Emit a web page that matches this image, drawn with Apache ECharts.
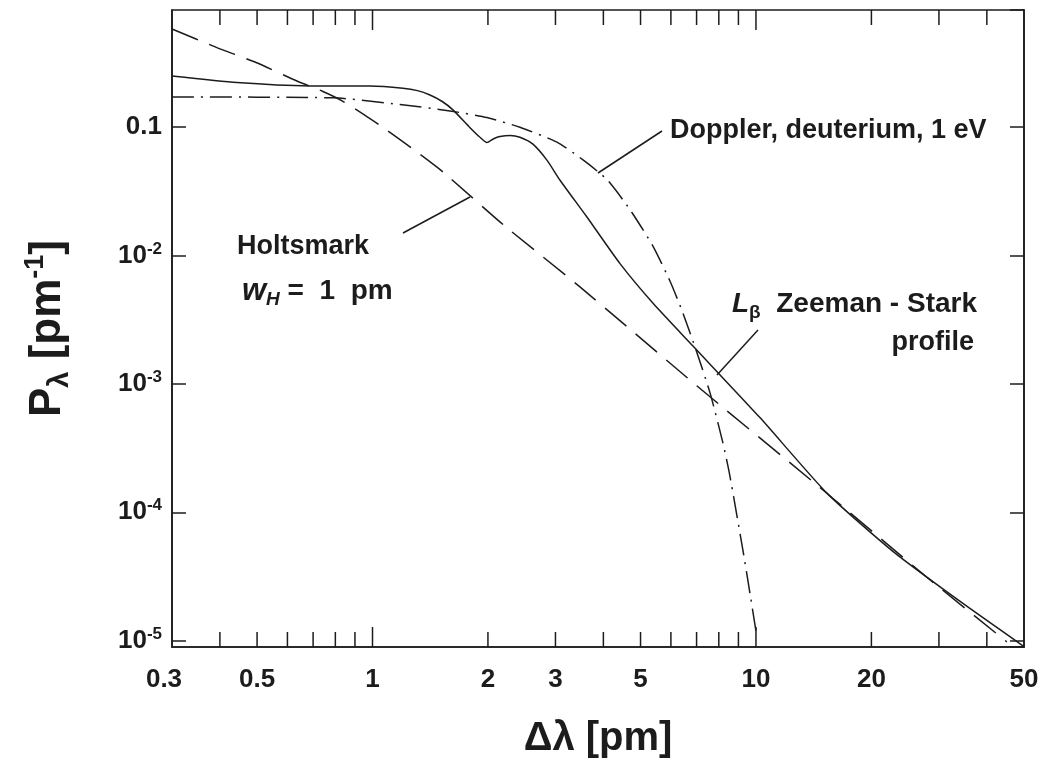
<!DOCTYPE html>
<html>
<head>
<meta charset="utf-8">
<script src="https://cdn.jsdelivr.net/npm/echarts@6/dist/echarts.min.js"></script>
<style>html,body{margin:0;padding:0;background:#fff}#chart{width:1045px;height:762px}</style>
</head>
<body>
<div id="chart"></div>
<script>
// ---- axis ranges and ticks ----
const X_MIN = 0.3, X_MAX = 50;
const Y_MIN = 8.93e-6, Y_MAX = 0.815;
const xLabelValues = [0.3, 0.5, 1, 2, 3, 5, 10, 20, 50];
const xMinorTicks = [0.4, 0.5, 0.6, 0.7, 0.8, 0.9, 2, 3, 4, 5, 6, 7, 8, 9, 20, 30, 40];
const xMajorTicks = [1, 10];

// ---- Holtsmark profile (w_H = 1 pm), long dashes ----
const holtsmarkX = [0.3, 0.393, 0.497, 0.635, 0.74, 0.833, 0.95, 1.065, 1.306, 1.526, 2.19, 3.475, 7.02, 14.42, 27.9, 45.1];
const holtsmarkY = [0.58, 0.415, 0.318, 0.228, 0.19, 0.160, 0.125, 0.0993, 0.0638, 0.0447, 0.0174, 0.00569, 0.000962, 0.000163, 0.0000312, 0.0000098];

// ---- L-beta Zeeman-Stark profile, solid ----
const starkX = [0.3, 0.443, 0.687, 0.985, 1.20, 1.31, 1.412, 1.52, 1.621, 1.796, 1.90, 1.988, 2.07, 2.15, 2.284, 2.424, 2.62, 2.85, 3.08, 3.62, 4.42, 5.39, 6.85, 10.24, 15.31, 22.8, 34.0, 50];
const starkY = [0.2495, 0.222, 0.209, 0.2086, 0.2005, 0.192, 0.1775, 0.158, 0.1359, 0.0988, 0.084, 0.0756, 0.081, 0.0843, 0.0860, 0.0832, 0.0735, 0.0552, 0.0387, 0.0200, 0.00863, 0.00424, 0.00197, 0.000546, 0.000141, 0.0000494, 0.0000203, 0.0000090];

// ---- Doppler profile (deuterium, 1 eV), dash-dot ----
const dopplerX = [0.3, 0.789, 1.179, 1.592, 1.988, 2.424, 3.027, 3.54, 4.09, 4.69, 5.39, 5.97, 6.45, 7.02, 7.59, 8.20, 8.55, 9.25, 9.65, 10.06];
const dopplerY = [0.1713, 0.1688, 0.1497, 0.1335, 0.1184, 0.0995, 0.0763, 0.0554, 0.0389, 0.0228, 0.01178, 0.00629, 0.00356, 0.00174, 0.00085, 0.000347, 0.000192, 0.0000502, 0.0000232, 0.0000106];

const INK = '#1c1c1c';
const FONT = '"Liberation Sans", Arial, Helvetica, sans-serif';

function zip(xs, ys) { return xs.map((x, i) => [x, ys[i]]); }

function tickSeries(values, len) {
  return {
    type: 'custom', clip: false, silent: true, z: 4,
    data: values.map(v => [v, Y_MIN]),
    renderItem: function (params, api) {
      const v = api.value(0);
      const b = api.coord([v, Y_MIN]);
      const t = api.coord([v, Y_MAX]);
      return {
        type: 'group',
        children: [
          { type: 'line', shape: { x1: b[0], y1: b[1], x2: b[0], y2: b[1] - len }, style: { stroke: INK, lineWidth: 1.5 } },
          { type: 'line', shape: { x1: t[0], y1: t[1], x2: t[0], y2: t[1] + len }, style: { stroke: INK, lineWidth: 1.5 } }
        ]
      };
    }
  };
}

const chart = echarts.init(document.getElementById('chart'), null, { renderer: 'canvas' });

const option = {
  animation: false,
  backgroundColor: '#ffffff',
  grid: {
    left: 172, top: 10, width: 852, height: 637, containLabel: false, outerBoundsMode: 'none',
    show: true, borderColor: INK, borderWidth: 1.6, backgroundColor: 'transparent'
  },
  xAxis: {
    type: 'log', logBase: 10, min: X_MIN, max: X_MAX,
    axisLine: { show: true, lineStyle: { color: INK, width: 1.6 } },
    axisTick: { show: false }, axisLabel: { show: false },
    splitLine: { show: false }, minorTick: { show: false },
    name: 'Δλ [pm]', nameLocation: 'middle', nameGap: 68,
    nameTextStyle: { fontFamily: FONT, fontSize: 40, fontWeight: 'bold', color: INK, lineHeight: 48 }
  },
  yAxis: [{
    type: 'log', logBase: 10, min: Y_MIN, max: Y_MAX, position: 'left',
    axisLine: { show: true, lineStyle: { color: INK, width: 1.6 } },
    axisTick: { show: true, inside: true, length: 14, lineStyle: { color: INK, width: 1.5 } },
    splitLine: { show: false }, minorTick: { show: false },
    axisLabel: {
      margin: 10, showMinLabel: false, showMaxLabel: false,
      formatter: function (v) {
        const e = Math.round(Math.log10(v));
        if (e === -1) return '{b|0.1}';
        return '{b|10}{s|' + e + '}';
      },
      rich: {
        b: { fontFamily: FONT, fontSize: 26, fontWeight: 'bold', color: INK, lineHeight: 30, verticalAlign: 'middle' },
        s: { fontFamily: FONT, fontSize: 17, fontWeight: 'bold', color: INK, lineHeight: 14, verticalAlign: 'top' }
      }
    },
    name: '{p|P}{sub|λ}{p| [pm}{sup|-1}{p|]}', nameLocation: 'middle', nameGap: 98, nameRotate: 90,
    nameTextStyle: {
      rich: {
        p: { fontFamily: FONT, fontSize: 44, fontWeight: 'bold', color: INK, lineHeight: 52, verticalAlign: 'middle' },
        sub: { fontFamily: FONT, fontSize: 29, fontWeight: 'bold', color: INK, lineHeight: 26, verticalAlign: 'bottom' },
        sup: { fontFamily: FONT, fontSize: 27, fontWeight: 'bold', color: INK, lineHeight: 22, verticalAlign: 'top' }
      }
    }
  }, {
    type: 'log', logBase: 10, min: Y_MIN, max: Y_MAX, position: 'right',
    axisLine: { show: true, lineStyle: { color: INK, width: 1.6 } },
    axisTick: { show: true, inside: true, length: 14, lineStyle: { color: INK, width: 1.5 } },
    axisLabel: { show: false }, splitLine: { show: false }
  }],
  series: [
    {
      name: 'Holtsmark', type: 'line', data: zip(holtsmarkX, holtsmarkY),
      showSymbol: false, smooth: 0.2,
      lineStyle: { color: INK, width: 1.5, type: [28, 12] }
    },
    {
      name: 'Lβ Zeeman - Stark profile', type: 'line', data: zip(starkX, starkY),
      showSymbol: false, smooth: 0.2,
      lineStyle: { color: INK, width: 1.5, type: 'solid' }
    },
    {
      name: 'Doppler, deuterium, 1 eV', type: 'line', data: zip(dopplerX, dopplerY),
      showSymbol: false, smooth: 0.2,
      lineStyle: { color: INK, width: 1.5, type: [22, 7, 2, 7] }
    },
    tickSeries(xMinorTicks, 15),
    tickSeries(xMajorTicks, 20),
    {
      type: 'custom', clip: false, silent: true, z: 4,
      data: xLabelValues.map(v => [v, Y_MIN]),
      renderItem: function (params, api) {
        const v = api.value(0);
        const p = api.coord([v, Y_MIN]);
        const dx = v === X_MIN ? -8 : 0;
        return {
          type: 'text', x: p[0] + dx, y: p[1] + 33,
          style: { text: String(v), fill: INK, fontFamily: FONT, fontSize: 26, fontWeight: 'bold', align: 'center', verticalAlign: 'middle' }
        };
      }
    }
  ],
  graphic: [
    { type: 'line', shape: { x1: 598, y1: 173, x2: 662, y2: 131 }, style: { stroke: INK, lineWidth: 1.5 } },
    { type: 'line', shape: { x1: 403, y1: 233, x2: 470, y2: 197 }, style: { stroke: INK, lineWidth: 1.5 } },
    { type: 'line', shape: { x1: 758, y1: 330, x2: 717, y2: 375 }, style: { stroke: INK, lineWidth: 1.5 } },
    { type: 'text', x: 670, y: 131, style: { text: 'Doppler, deuterium, 1 eV', fill: INK, fontFamily: FONT, fontSize: 27, fontWeight: 'bold', align: 'left', verticalAlign: 'middle' } },
    { type: 'text', x: 237, y: 247, style: { text: 'Holtsmark', fill: INK, fontFamily: FONT, fontSize: 27, fontWeight: 'bold', align: 'left', verticalAlign: 'middle' } },
    { type: 'text', x: 242, y: 291, style: {
        text: '{w|w}{h|H}{t| =  1  pm}', align: 'left', verticalAlign: 'middle',
        rich: {
          w: { fontFamily: FONT, fontSize: 31, fontWeight: 'bold', fontStyle: 'italic', fill: INK, lineHeight: 36, verticalAlign: 'middle' },
          h: { fontFamily: FONT, fontSize: 19, fontWeight: 'bold', fontStyle: 'italic', fill: INK, lineHeight: 22, verticalAlign: 'bottom' },
          t: { fontFamily: FONT, fontSize: 28, fontWeight: 'bold', fill: INK, lineHeight: 36, verticalAlign: 'middle' }
        } } },
    { type: 'text', x: 732, y: 304, style: {
        text: '{l|L}{b|β}{t|  Zeeman - Stark}', align: 'left', verticalAlign: 'middle',
        rich: {
          l: { fontFamily: FONT, fontSize: 28, fontWeight: 'bold', fontStyle: 'italic', fill: INK, lineHeight: 36, verticalAlign: 'middle' },
          b: { fontFamily: FONT, fontSize: 19, fontWeight: 'bold', fill: INK, lineHeight: 22, verticalAlign: 'bottom' },
          t: { fontFamily: FONT, fontSize: 28, fontWeight: 'bold', fill: INK, lineHeight: 36, verticalAlign: 'middle' }
        } } },
    { type: 'text', x: 974, y: 343, style: { text: 'profile', fill: INK, fontFamily: FONT, fontSize: 27, fontWeight: 'bold', align: 'right', verticalAlign: 'middle' } }
  ]
};

chart.setOption(option);
</script>
</body>
</html>
